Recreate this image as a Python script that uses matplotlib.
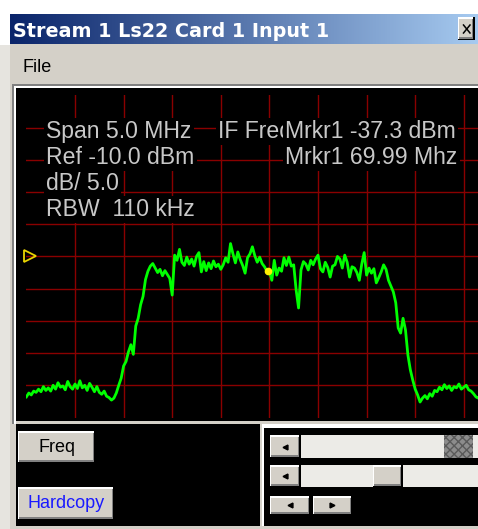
import numpy as np
import matplotlib
matplotlib.use("Agg")
import matplotlib.pyplot as plt
from matplotlib.patches import Rectangle

W, H = 478, 529

# spectrum trace in dBm, one sample every 25 kHz from 67.5 MHz
level = [
    -56.8, -56.2, -56.5, -55.9, -56.1, -55.6, -56.0, -55.2, -55.8, -55.4,
    -55.9, -55.0, -55.6, -54.6, -55.3, -55.1, -55.7, -54.4, -55.2, -55.6,
    -54.8, -55.5, -54.3, -55.4, -55.0, -55.8, -54.7, -55.3, -56.0, -55.2,
    -56.1, -56.4, -55.9, -56.7, -56.9, -57.3, -57.0, -56.2, -55.0, -53.9,
    -52.0, -51.3, -49.8, -48.7, -50.2, -45.8, -44.6, -42.5, -41.2, -38.6,
    -37.3, -36.5, -36.1, -36.8, -37.5, -37.0, -38.0, -37.2, -37.8, -38.4,
    -41.0, -34.8, -35.6, -33.9, -35.9, -36.4, -35.1, -36.2, -35.4, -36.5,
    -35.0, -34.4, -37.4, -35.8, -37.2, -36.0, -36.9, -35.7, -36.6, -36.2,
    -37.0, -36.3, -35.2, -35.9, -33.0, -34.6, -36.0, -34.3, -35.5,
    -36.4, -37.6, -35.2, -34.6, -33.5, -34.9, -35.9, -35.1, -36.1, -36.6, -37.3,
    -37.3, -38.7, -35.6, -37.9, -36.8, -37.3, -35.2, -36.4, -35.1, -36.5,
    -36.3, -40.2, -43.0, -37.1, -35.8, -36.2, -37.1, -35.6, -36.3, -35.4,
    -34.8, -36.9, -37.4, -35.9, -36.7, -38.2, -36.5, -36.3, -35.0, -35.4,
    -36.8, -34.8, -35.9, -38.2, -36.6, -36.8, -37.5, -38.7, -36.2, -34.4,
    -37.9, -36.8, -37.6, -36.9, -39.1, -38.3, -37.4, -36.3, -37.0, -38.7,
    -39.6, -40.5, -42.2, -46.1, -46.9, -44.6, -46.4, -50.3, -52.6, -54.2,
    -55.6, -56.5, -57.6, -57.0, -56.6, -57.1, -56.3, -56.7, -55.8, -56.0,
    -55.3, -55.7, -54.9, -55.5, -55.1, -55.8, -55.2, -55.4, -54.8, -55.6,
    -55.3, -55.0, -55.7, -55.9, -56.3, -56.8, -57.0, -56.5, -56.9,
]
freq = 67.5 + 0.025 * np.arange(len(level))

center_mhz = 70.0
span_mhz = 5.0
ref_dbm = -10.0
db_per_div = 5.0
ref_marker_dbm = -35.0
marker_freq = 69.99
marker_dbm = -37.3

title = "Stream 1 Ls22 Card 1 Input 1"
readout_left = ["Span 5.0 MHz", "Ref -10.0 dBm", "dB/ 5.0", "RBW  110 kHz"]
readout_right = ["Mrkr1 -37.3 dBm", "Mrkr1 69.99 Mhz"]

GRAY = "#d4d0c8"

fig = plt.figure(figsize=(W / 100, H / 100), dpi=100)
fig.patch.set_facecolor("white")

# window chrome, drawn in pixel coordinates (y down)
ui = fig.add_axes([0, 0, 1, 1], zorder=0)
ui.set_axis_off()


def box(x0, y0, x1, y1, color, **kw):
    ui.add_patch(Rectangle((x0, y0), x1 - x0, y1 - y0, facecolor=color,
                           edgecolor="none", **kw))


def button(x0, y0, x1, y1):
    box(x0, y0, x1, y1, "#000000", zorder=3)
    box(x0, y0, x1 - 1.5, y1 - 1.5, "#ffffff", zorder=3)
    box(x0 + 1.5, y0 + 1.5, x1 - 1.5, y1 - 1.5, "#808080", zorder=3)
    box(x0 + 1.5, y0 + 1.5, x1 - 3, y1 - 3, GRAY, zorder=3)


def fx(x):
    return x / W


def fy(y):
    return 1 - y / H


box(0, 45, 10, H, "#e6e4df")
box(10, 14, W, H, GRAY)

# title bar gradient
grad = np.linspace(0, 1, 256)[None, :]
ui.imshow(grad, cmap=matplotlib.colors.LinearSegmentedColormap.from_list(
    "tb", ["#0a246a", "#a6caf0"]), extent=(10, W, 44, 14), aspect="auto", zorder=2)
button(458, 17, 475, 40)
ui.plot([463.5, 470], [25, 33], color="black", lw=1.1, zorder=4)
ui.plot([463.5, 470], [33, 25], color="black", lw=1.1, zorder=4)

# display panel
box(12, 84, W, 86, "#808080")
box(12, 84, 14, 424, "#808080")
box(14, 86, W, 88, "#ffffff")
box(14, 86, 16, 424, "#ffffff")
box(16, 88, W, 421, "#000000")

# lower control panel
box(16, 424, 260, 526, "#000000")
box(262, 424, W, 526, "#ffffff")
box(264, 428, W, 526, "#000000")

button(18, 431, 96, 463)
button(18, 487, 115, 520)

for y0, y1, t0, t1, dark in [(435, 458, 444, 473, True), (465, 487, 373, 403, False)]:
    box(270, y0, W, y1, "#ecebe7", hatch="....", linewidth=0, zorder=2)
    button(270, y0, 301, y1)
    ui.plot(285, (y0 + y1) / 2, marker="<", ms=3.5, color="black", zorder=4)
    if dark:
        ui.add_patch(Rectangle((t0, y0), t1 - t0, y1 - y0, facecolor="#8c8c8c",
                               edgecolor="#5a5a5a", hatch="xxxx", linewidth=0, zorder=3))
    else:
        button(t0, y0, t1, y1)
button(270, 496, 311, 515)
button(313, 496, 353, 515)
ui.plot(290, 505, marker="<", ms=3.5, color="black", zorder=4)
ui.plot(332, 505, marker=">", ms=3.5, color="black", zorder=4)

ui.set_xlim(0, W)
ui.set_ylim(H, 0)

# spectrum display
gx0, gx1, gy0, gy1 = 26.4, 512.4, 95.4, 417.5
ax = fig.add_axes([fx(gx0), fy(gy1), (gx1 - gx0) / W, (gy1 - gy0) / H], zorder=1)
ax.set_facecolor("none")
ax.set_axis_off()
fmin = center_mhz - span_mhz / 2
bottom = ref_dbm - 10 * db_per_div
ax.set_xlim(fmin, fmin + span_mhz)
ax.set_ylim(bottom, ref_dbm)
for k in range(1, 10):
    ax.axvline(fmin + k * span_mhz / 10, color="#8a0000", lw=1.0, zorder=1)
    ax.axhline(bottom + k * db_per_div, color="#8a0000", lw=1.0, zorder=1)

ax.plot(freq, level, color="#00ff00", lw=2.0, zorder=3)
ax.plot(fmin + 0.035, ref_marker_dbm, marker=">", ms=8, mfc="none",
        mec="#e8d400", mew=1.3, clip_on=False, zorder=4)
ax.plot(marker_freq, marker_dbm, "o", ms=4.5, color="#ffee00", zorder=4)

# readouts
txt = dict(color="#c8c8c8", fontsize=16.6, family="Liberation Sans",
           va="baseline", bbox=dict(boxstyle="square,pad=0.1", fc="black", ec="none"))
for i, s in enumerate(readout_left):
    fig.text(fx(46), fy(138 + 26 * i), s, zorder=5, **txt)
fig.text(fx(218), fy(138), "IF Freq", zorder=5, **txt)
for i, s in enumerate(readout_right):
    fig.text(fx(285), fy(138 + 26 * i), s, zorder=6, **txt)

# title, menu, buttons
fig.text(fx(13), fy(37), title, color="white", fontsize=13.8,
         fontweight="bold", family="DejaVu Sans", zorder=5)
fig.text(fx(22), fy(72), "File", color="black", fontsize=13,
         family="Liberation Sans", zorder=5)
fig.text(fx(57), fy(447), "Freq", color="black", fontsize=13,
         family="Liberation Sans", ha="center", va="center", zorder=5)
fig.text(fx(66), fy(503), "Hardcopy", color="#1a1aff", fontsize=13,
         family="Liberation Sans", ha="center", va="center", zorder=5)

fig.savefig("out.png", dpi=100)
